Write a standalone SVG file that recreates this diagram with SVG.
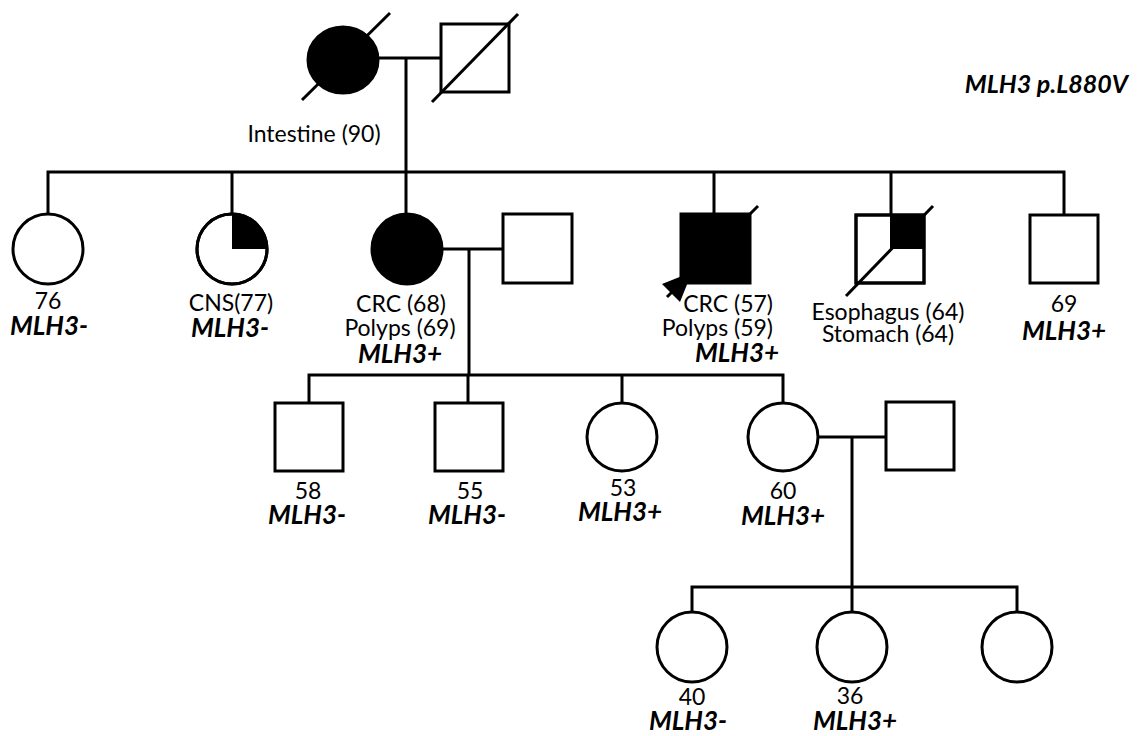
<svg xmlns="http://www.w3.org/2000/svg" width="1142" height="736" viewBox="0 0 1142 736">
<style>
.s{fill:#fff;stroke:#000;stroke-width:3}
.f{fill:#000;stroke:#000;stroke-width:3}
.q{fill:#000;stroke:none}
.l{fill:none;stroke:#000;stroke-width:3}
text{font-family:Lato,"Open Sans","Liberation Sans",sans-serif;fill:#000}
.t{font-size:23px;text-anchor:middle}
.g{font-size:26px;font-weight:bold;font-style:italic;text-anchor:middle}
</style>
<rect width="1142" height="736" fill="#fff"/>
<g id="connectors" class="l">
<line x1="378" y1="58" x2="441" y2="58"/>
<line x1="406" y1="58" x2="406" y2="214"/>
<polyline points="48,215 48,172 1064,172 1064,215"/>
<line x1="232" y1="172" x2="232" y2="214"/>
<line x1="714" y1="172" x2="714" y2="214"/>
<line x1="891" y1="172" x2="891" y2="215"/>
<line x1="442" y1="249" x2="503" y2="249"/>
<line x1="469" y1="249" x2="469" y2="375"/>
<polyline points="309,403 309,375 783,375 783,402"/>
<line x1="468" y1="375" x2="468" y2="403"/>
<line x1="622" y1="375" x2="622" y2="403"/>
<line x1="818" y1="437" x2="886" y2="437"/>
<line x1="852" y1="437" x2="852" y2="587"/>
<polyline points="692,612 692,587 1017,587 1017,612"/>
<line x1="852" y1="587" x2="852" y2="612"/>
</g>
<g id="title"><text x="1128" y="93" style="font-size:25px;font-weight:bold;font-style:italic;text-anchor:end">MLH3 p.L880V</text></g>
<g id="gf1">
<ellipse class="f" cx="343" cy="60" rx="35" ry="33"/>
<line class="l" x1="302" y1="100" x2="390" y2="13"/>
<text class="t" x="314" y="142">Intestine (90)</text>
</g>
<g id="gf2">
<rect class="s" x="441" y="24" width="68" height="68"/>
<line class="l" x1="432" y1="102" x2="518" y2="14"/>
</g>
<g id="p1">
<circle class="s" cx="48" cy="249" r="35"/>
<text class="t" x="48" y="309">76</text>
<text class="g" x="49" y="335">MLH3-</text>
</g>
<g id="p2">
<circle class="s" cx="232" cy="249" r="35"/>
<path class="q" d="M232,249 L232,214 A35,35 0 0 1 267,249 Z"/>
<circle cx="232" cy="249" r="35" fill="none" stroke="#000" stroke-width="3"/>
<text class="t" x="231" y="311">CNS(77)</text>
<text class="g" x="230" y="337">MLH3-</text>
</g>
<g id="p3">
<circle class="f" cx="407" cy="249" r="35"/>
<text class="t" x="401" y="312">CRC (68)</text>
<text class="t" x="400" y="336">Polyps (69)</text>
<text class="g" x="400" y="363">MLH3+</text>
</g>
<g id="p3s">
<rect class="s" x="503" y="214" width="69" height="69"/>
</g>
<g id="p4">
<rect class="f" x="681" y="214" width="69" height="69"/>
<line class="l" x1="700" y1="264" x2="758" y2="206"/>
<polygon points="662,284 680,302 692,272" fill="#000"/>
<line class="l" x1="672" y1="292" x2="667" y2="297"/>
<text class="t" x="773" y="312" style="text-anchor:end">CRC (57)</text>
<text class="t" x="773" y="336" style="text-anchor:end">Polyps (59)</text>
<text class="g" x="737" y="362">MLH3+</text>
</g>
<g id="p5">
<rect class="s" x="856" y="215" width="68" height="68"/>
<rect class="q" x="890" y="215" width="34" height="34"/>
<rect x="856" y="215" width="68" height="68" fill="none" stroke="#000" stroke-width="3"/>
<line class="l" x1="846" y1="296" x2="933" y2="206"/>
<text class="t" x="888" y="320">Esophagus (64)</text>
<text class="t" x="888" y="342">Stomach (64)</text>
</g>
<g id="p6">
<rect class="s" x="1030" y="215" width="68" height="68"/>
<text class="t" x="1064" y="312">69</text>
<text class="g" x="1064" y="340">MLH3+</text>
</g>
<g id="c1">
<rect class="s" x="275" y="403" width="68" height="68"/>
<text class="t" x="308" y="499">58</text>
<text class="g" x="307" y="524">MLH3-</text>
</g>
<g id="c2">
<rect class="s" x="435" y="403" width="68" height="68"/>
<text class="t" x="470" y="499">55</text>
<text class="g" x="467" y="524">MLH3-</text>
</g>
<g id="c3">
<ellipse class="s" cx="622" cy="437" rx="35" ry="34"/>
<text class="t" x="623" y="496">53</text>
<text class="g" x="620" y="521">MLH3+</text>
</g>
<g id="c4">
<ellipse class="s" cx="783" cy="437" rx="35" ry="34"/>
<text class="t" x="783" y="499">60</text>
<text class="g" x="783" y="525">MLH3+</text>
</g>
<g id="c4s">
<rect class="s" x="886" y="402" width="68" height="68"/>
</g>
<g id="g1">
<circle class="s" cx="692" cy="647" r="35"/>
<text class="t" x="692" y="705">40</text>
<text class="g" x="688" y="730">MLH3-</text>
</g>
<g id="g2">
<circle class="s" cx="852" cy="647" r="35"/>
<text class="t" x="850" y="704">36</text>
<text class="g" x="855" y="730">MLH3+</text>
</g>
<g id="g3">
<circle class="s" cx="1017" cy="647" r="35"/>
</g>
</svg>
